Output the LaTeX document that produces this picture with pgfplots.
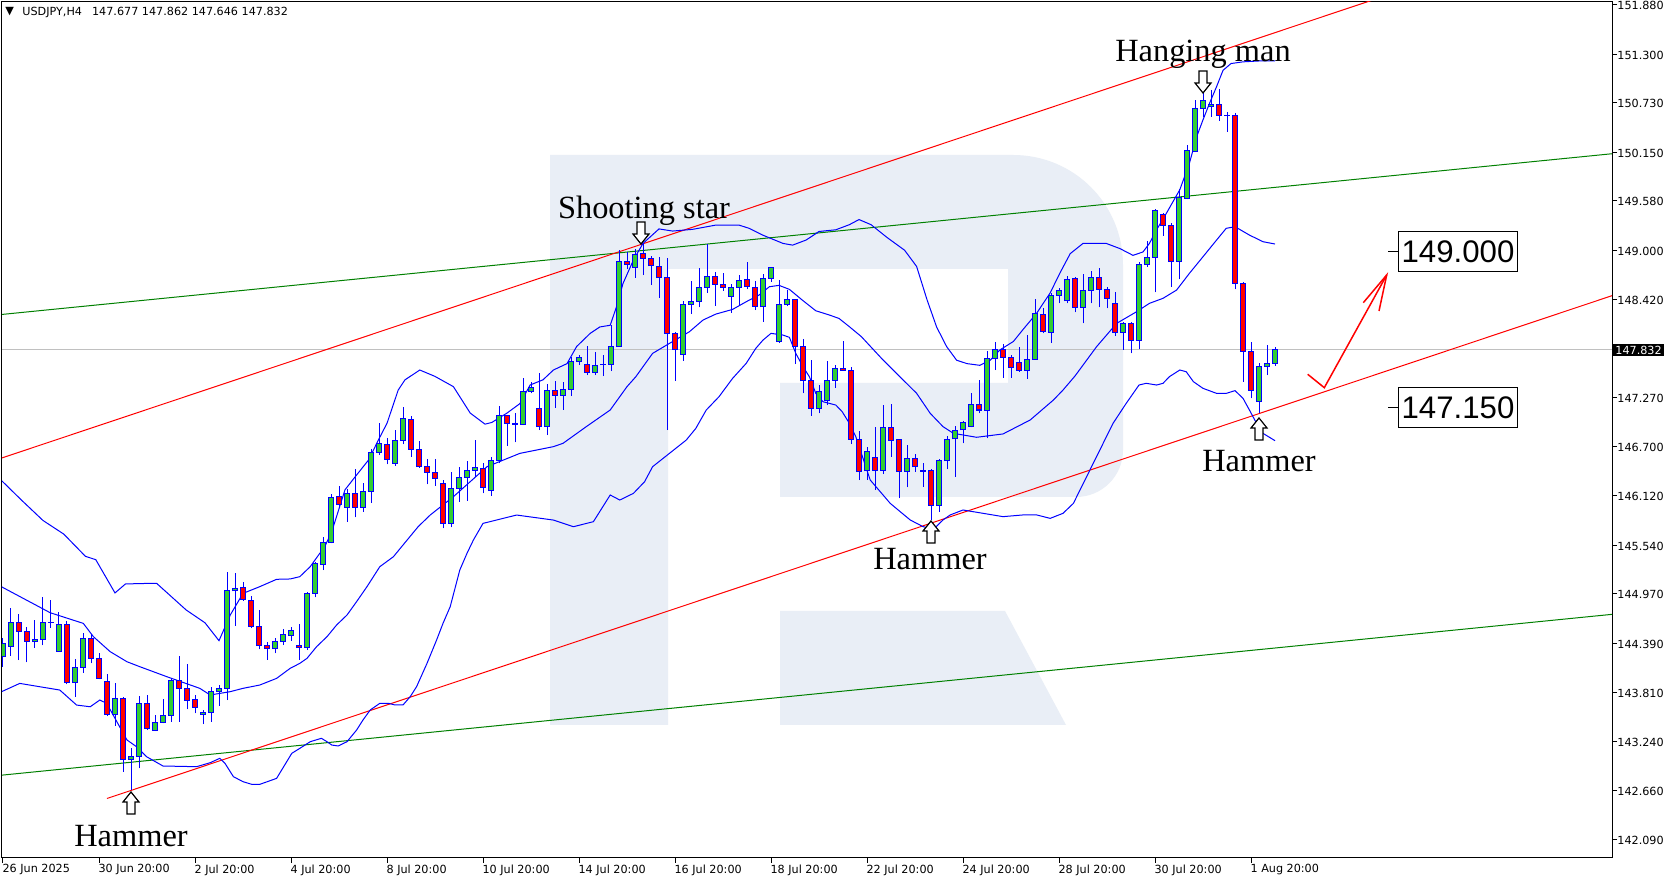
\documentclass[border=0pt]{standalone}
\usepackage{pgfplots}
\pgfplotsset{compat=1.18}
\usepackage{pgfplotstable}
\usepackage{fontspec}
\setmainfont{DejaVu Sans}
\newfontfamily\annfont{Liberation Serif}
\newfontfamily\boxfont{Liberation Sans}
\definecolor{bull}{RGB}{50,205,50}
\definecolor{bear}{RGB}{255,0,0}
\definecolor{wm}{RGB}{233,238,246}
\definecolor{dgreen}{RGB}{0,128,0}
\definecolor{pgray}{RGB}{192,192,192}

\pgfplotstableread{
i o h l c
-12 144.232 144.447 144.115 144.388
-11 144.353 144.799 144.244 144.635
-8 144.412 144.662 144.338 144.435
-7 144.435 144.928 144.365 144.635
-6 144.635 144.897 144.572 144.636
-5 144.299 144.752 144.291 144.611
-3 143.927 144.205 143.763 144.107
-2 144.107 144.506 144.044 144.447
2 143.556 143.919 143.423 143.743
4 143.028 143.157 142.668 143.059
5 143.059 143.771 142.922 143.685
7 143.372 143.548 143.360 143.462
8 143.462 143.732 143.450 143.548
9 143.548 143.978 143.470 143.958
13 143.556 143.607 143.442 143.579
14 143.579 143.880 143.470 143.822
15 143.822 143.900 143.658 143.861
16 143.861 145.230 143.724 145.003
17 145.003 145.210 144.596 145.034
22 144.330 144.448 144.272 144.409
23 144.409 144.553 144.369 144.487
24 144.479 144.577 144.420 144.534
26 144.338 144.995 144.310 144.976
27 144.976 145.347 144.929 145.327
28 145.316 145.640 145.249 145.574
29 145.570 146.137 145.562 146.102
31 145.984 146.199 145.816 146.149
33 145.984 146.266 145.934 146.168
34 146.172 146.665 146.039 146.629
35 146.629 146.970 146.598 146.735
37 146.500 146.891 146.473 146.770
38 146.770 147.157 146.723 147.028
44 145.796 146.402 145.749 146.207
45 146.207 146.461 146.050 146.336
46 146.336 146.527 146.062 146.418
47 146.418 146.774 146.336 146.453
49 146.183 146.578 146.121 146.539
50 146.539 147.173 146.500 147.067
52 146.961 147.087 146.746 146.965
53 146.957 147.497 146.950 147.341
54 147.341 147.458 147.321 147.392
56 146.930 147.431 146.832 147.360
58 147.298 147.458 147.126 147.368
59 147.368 147.751 147.290 147.693
60 147.693 147.771 147.653 147.743
62 147.567 147.810 147.536 147.646
63 147.657 147.771 147.524 147.661
64 147.661 148.123 147.583 147.876
65 147.876 149.002 147.868 148.873
67 148.799 149.010 148.678 148.952
73 147.778 148.408 147.704 148.365
74 148.365 148.638 148.251 148.404
75 148.400 148.795 148.330 148.564
76 148.564 149.072 148.502 148.697
79 148.459 148.603 148.267 148.564
80 148.564 148.709 148.357 148.646
83 148.337 148.721 148.161 148.670
84 148.670 148.807 148.631 148.799
85 147.927 148.650 147.915 148.365
86 148.365 148.533 148.345 148.423
90 147.145 147.419 147.086 147.344
91 147.243 147.700 147.184 147.473
92 147.473 147.653 147.387 147.614
96 146.411 146.696 146.305 146.641
98 146.422 147.185 146.375 146.923
101 146.403 146.716 146.219 146.559
103 146.410 146.501 146.227 146.420
105 146.004 146.547 145.934 146.528
106 146.528 146.821 146.430 146.782
107 146.786 146.938 146.344 146.884
108 146.892 146.997 146.735 146.981
109 146.938 147.322 146.923 147.193
111 147.122 147.818 146.794 147.732
112 147.732 147.928 147.595 147.838
116 147.595 148.006 147.494 147.720
117 147.720 148.424 147.713 148.260
119 148.037 148.495 147.916 148.471
120 148.471 148.561 148.377 148.522
121 148.405 148.698 148.377 148.659
123 148.330 148.721 148.142 148.533
124 148.533 148.756 148.377 148.682
128 148.037 148.158 147.830 148.142
130 147.947 148.858 147.837 148.834
131 148.834 149.112 148.807 148.917
132 148.917 149.480 148.506 149.468
135 148.866 149.714 148.658 149.616
136 149.609 150.234 149.597 150.168
137 150.164 150.762 150.156 150.664
138 150.664 150.840 150.567 150.754
139 150.684 150.879 150.567 150.715
141 150.586 150.625 150.391 150.586
145 147.223 147.673 147.087 147.642
146 147.642 147.888 147.536 147.673
147 147.677 147.862 147.646 147.832
}\candlesUp

\pgfplotstableread{
i o h l c
-10 144.635 144.733 144.193 144.529
-9 144.529 144.576 144.166 144.416
-4 144.611 144.647 143.908 143.927
-1 144.447 144.498 144.154 144.213
0 144.213 144.271 143.966 143.978
1 143.943 144.029 143.536 143.556
3 143.743 143.763 142.883 143.028
6 143.685 143.782 143.372 143.391
10 143.958 144.240 143.470 143.861
11 143.861 144.142 143.614 143.724
12 143.732 143.782 143.567 143.638
18 145.046 145.105 144.890 144.909
19 144.897 144.948 144.565 144.585
20 144.590 144.780 144.319 144.362
21 144.369 144.409 144.194 144.330
25 144.369 144.612 144.194 144.338
30 146.110 146.235 145.992 146.020
32 146.149 146.430 145.867 145.984
36 146.723 146.794 146.489 146.547
39 147.017 147.056 146.579 146.665
40 146.665 146.762 146.450 146.461
41 146.465 146.551 146.254 146.395
42 146.394 146.547 146.238 146.324
43 146.265 146.305 145.738 145.796
48 146.441 146.500 146.148 146.218
51 147.067 147.070 146.707 146.969
55 147.145 147.556 146.891 146.930
57 147.352 147.466 147.153 147.298
61 147.665 147.876 147.536 147.567
66 148.870 148.983 148.780 148.838
68 148.963 149.081 148.709 148.905
69 148.904 148.932 148.592 148.818
70 148.814 148.924 148.443 148.681
71 148.681 148.904 146.891 148.025
72 148.025 148.044 147.469 147.837
77 148.697 148.740 148.349 148.599
78 148.599 148.728 148.525 148.564
81 148.658 148.857 148.541 148.580
82 148.564 148.638 148.298 148.345
87 148.423 148.430 147.665 147.868
88 147.868 147.958 147.321 147.469
89 147.469 147.712 147.059 147.145
93 147.614 147.935 147.590 147.591
94 147.587 147.634 146.726 146.781
95 146.781 146.879 146.304 146.402
97 146.571 146.931 146.188 146.422
99 146.923 147.197 146.579 146.774
100 146.782 146.790 146.090 146.403
102 146.559 146.610 146.403 146.458
104 146.422 146.430 145.836 146.004
110 147.193 147.478 147.087 147.126
113 147.838 147.900 147.505 147.744
114 147.744 147.771 147.505 147.627
115 147.681 147.861 147.576 147.595
118 148.248 148.319 148.025 148.045
122 148.670 148.682 148.271 148.330
125 148.682 148.787 148.330 148.541
126 148.541 148.572 148.318 148.436
127 148.377 148.514 147.998 148.037
129 148.142 148.162 147.791 147.947
133 149.421 149.440 149.171 149.288
134 149.288 149.315 148.572 148.866
140 150.711 150.891 150.520 150.586
142 150.586 150.606 148.541 148.612
143 148.612 148.631 147.458 147.818
144 147.818 147.927 147.263 147.360
}\candlesDown

\pgfplotstableread{
i v
-12.2 146.30
-9.7 146.07
-7.0 145.83
-4.4 145.67
-1.7 145.41
-0.4 145.37
2.0 144.98
3.3 145.085
5.0 145.09
7.2 145.093
10.9 144.78
13.25 144.63
15.0 144.42
16.4 144.72
18.0 144.975
20.1 145.054
22.2 145.140
23.9 145.144
25.1 145.171
26.4 145.288
27.6 145.445
28.0 145.48
29.1 145.70
30.75 146.19
32.0 146.34
33.7 146.54
34.9 146.77
36.0 146.97
37.4 147.36
38.25 147.48
40.1 147.595
42 147.52
44.3 147.40
46.4 147.09
48.25 146.96
49.1 146.98
51.0 147.09
52.6 147.20
53.9 147.42
55.5 147.48
56.8 147.595
58.5 147.67
59.7 147.87
61.4 148.025
62.6 148.10
63.9 148.12
64.7 148.34
65.5 148.61
66.8 148.885
68.0 149.08
70.0 149.25
71.7 149.225
74.2 149.245
77.1 149.295
80.0 149.295
81.3 149.256
82.9 149.18
85.5 149.08
86.7 149.06
88.4 149.12
90.0 149.22
92.1 149.24
93.8 149.30
95.0 149.36
96.5 149.30
98.5 149.15
100.7 149.00
102.2 148.81
103.5 148.42
104.7 148.10
105.95 147.87
107.2 147.71
108.5 147.67
110.1 147.65
111.4 147.71
112.6 147.83
114.3 147.93
115.5 148.07
117.2 148.26
118.9 148.50
120.1 148.73
121.4 148.96
123.0 149.08
125.9 149.08
127.6 149.02
129.25 148.94
130.5 148.98
131.3 149.08
132.2 149.24
133.4 149.43
135.1 149.71
136.3 150.02
137.2 150.33
138.0 150.53
138.8 150.72
139.7 150.92
140.5 151.11
141.5 151.19
143.0 151.21
145.0 151.22
147.0 151.22
}\bbUpper

\pgfplotstableread{
i v
-12.2 145.053
-6.1 144.748
-1.96 144.623
-0.7 144.467
1.4 144.291
3.5 144.173
5.1 144.115
8.5 143.997
12.6 143.861
13.9 143.783
16.4 143.822
18.0 143.861
20.1 143.900
22.2 143.978
23.9 144.096
25.1 144.154
26.0 144.213
27.2 144.350
28.5 144.467
29.7 144.604
31.0 144.721
32.2 144.878
33.5 145.054
35.1 145.288
36.8 145.405
38.0 145.542
39.9 145.758
41.4 145.894
44.3 146.109
48.5 146.461
52.6 146.617
56.8 146.696
58.0 146.735
60.9 146.930
63.9 147.126
66.0 147.40
67.1 147.516
68.2 147.66
69.2 147.79
71.3 147.907
73.8 148.044
75.5 148.181
77.1 148.251
79.2 148.306
80.9 148.396
82.5 148.474
83.8 148.572
85.0 148.588
86.3 148.541
87.9 148.416
89.6 148.290
91.3 148.240
92.5 148.200
93.8 148.103
95.3 147.986
98.0 147.713
100.1 147.517
102.2 147.322
103.9 147.087
105.5 146.931
106.8 146.852
109.7 146.806
113.0 146.845
116.4 147.009
119.3 147.243
120.5 147.36
122.0 147.525
124.7 147.869
127.2 148.142
129.7 148.279
131.3 148.377
133.0 148.436
134.7 148.533
136.3 148.729
138.0 148.924
139.7 149.120
140.9 149.257
142.0 149.276
143.8 149.178
145.5 149.100
147.0 149.073
}\bbMiddle

\pgfplotstableread{
i v
-12.2 143.821
-9.9 143.919
-4.9 143.841
-2.8 143.665
-1.1 143.645
0.1 143.724
0.96 143.685
3.5 143.255
4.7 143.176
5.95 143.059
8.0 142.950
12.2 142.942
13.9 142.989
15.1 143.040
15.75 142.981
16.8 142.825
18.0 142.766
19.1 142.735
20.1 142.735
22.2 142.805
24.1 143.099
25.1 143.157
26.4 143.235
27.8 143.275
28.5 143.235
29.1 143.196
29.9 143.185
31.0 143.235
32.2 143.372
33.0 143.490
33.9 143.607
35.1 143.685
36.2 143.685
37.0 143.666
38.0 143.666
38.9 143.763
39.7 143.881
41.0 144.154
42.2 144.428
43.0 144.623
43.9 144.819
45.1 145.249
46.0 145.445
46.8 145.601
48.0 145.796
52.2 145.894
56.8 145.835
59.3 145.757
61.8 145.816
63.9 146.129
65.1 146.070
66.8 146.148
68.2 146.285
69.2 146.461
71.3 146.617
73.4 146.773
74.6 146.910
75.9 147.125
77.5 147.282
79.2 147.497
80.9 147.673
82.1 147.849
83.0 147.946
84.0 148.025
85.5 148.005
86.3 147.978
87.1 147.790
88.0 147.634
88.8 147.516
89.6 147.321
90.5 147.223
92.1 147.184
92.9 147.106
93.8 146.969
94.6 146.813
96.4 146.305
98.9 146.031
101.4 145.836
103.0 145.758
104.3 145.726
105.5 145.836
106.4 145.895
108.0 145.953
110.5 145.914
113.0 145.875
115.5 145.895
117.2 145.895
118.9 145.855
120.5 145.914
121.8 146.031
125.1 146.656
126.75 146.969
128.4 147.204
130.0 147.419
130.9 147.439
132.2 147.419
133.0 147.439
133.8 147.517
135.1 147.595
135.9 147.575
136.8 147.458
138.0 147.380
139.7 147.321
140.9 147.321
142.0 147.353
143.0 147.263
143.8 147.126
144.7 146.969
145.5 146.852
147.0 146.766
}\bbLower

\newcommand{\harrowup}[2]{\filldraw[fill=white, draw=black, line width=0.6pt, line join=miter] (#1,#2) -- ++(8,10) -- ++(-4,0) -- ++(0,12) -- ++(-8,0) -- ++(0,-12) -- ++(-4,0) -- cycle;}
\newcommand{\harrowdown}[2]{\filldraw[fill=white, draw=black, line width=0.6pt, line join=miter] (#1,#2) -- ++(8,-10) -- ++(-4,0) -- ++(0,-12) -- ++(-8,0) -- ++(0,12) -- ++(-4,0) -- cycle;}

\begin{document}
\begin{tikzpicture}
\begin{scope}[x=0.5pt,y=-0.5pt,yshift=441pt]
\path[use as bounding box] (0,0) rectangle (1676,882);
\fill[white] (0,0) rectangle (1676,882);
% watermark R
\fill[wm] (550,155) -- (1013,155) .. controls (1074,155) and (1123,204) .. (1123,265) -- (1123,450) .. controls (1123,476) and (1102,497) .. (1076,497) -- (780,497) -- (780,383) -- (1008,383) -- (1008,269) -- (668,269) -- (668,725) -- (550,725) -- cycle;
\fill[wm] (780,611) -- (1005,611) -- (1066,725) -- (780,725) -- cycle;
\end{scope}

\begin{axis}[
  at={(1pt,12pt)}, anchor=south west,
  scale only axis, width=805pt, height=428pt,
  xmin=-12.125, xmax=189.125, ymin=141.871, ymax=151.912,
  axis line style={black, line width=0.5pt},
  clip mode=individual,
  xtick={-12,0,12,24,36,48,60,72,84,96,108,120,132,144},
  xticklabels={26 Jun 2025,30 Jun 20:00,2 Jul 20:00,4 Jul 20:00,8 Jul 20:00,10 Jul 20:00,14 Jul 20:00,16 Jul 20:00,18 Jul 20:00,22 Jul 20:00,24 Jul 20:00,28 Jul 20:00,30 Jul 20:00,1 Aug 20:00},
  ytick={142.09,142.66,143.24,143.81,144.39,144.97,145.54,146.12,146.70,147.27,148.42,149.00,149.58,150.15,150.73,151.30,151.88},
  yticklabels={142.090,142.660,143.240,143.810,144.390,144.970,145.540,146.120,146.700,147.270,148.420,149.000,149.580,150.150,150.730,151.300,151.880},
  xtick pos=left, ytick pos=right, yticklabel pos=right,
  tick align=outside, major tick length=2.5pt,
  tick style={black, line width=0.5pt},
  xticklabel style={anchor=north west, inner sep=0pt, font=\fontsize{5.6}{6.7}\selectfont, xshift=-0.4pt, yshift=-0.6pt},
  yticklabel style={anchor=west, inner sep=0pt, font=\fontsize{5.6}{6.7}\selectfont, yshift=-0.5pt},
]
% reference lines
\addplot[pgray, line width=0.5pt] coordinates {(-12.125,147.832) (189.125,147.832)};
\addplot[dgreen, line width=0.5pt] coordinates {(-12.125,148.247) (189.125,150.132)};
\addplot[dgreen, line width=0.5pt] coordinates {(-12.125,142.843) (189.125,144.729)};
\addplot[red, line width=0.5pt] coordinates {(-12.125,146.564) (189.125,152.873)};
\addplot[red, line width=0.5pt] coordinates {(0.99,142.569) (189.125,148.467)};
% Bollinger bands
\addplot[blue, line width=0.5pt] table[x=i,y=v] \bbUpper;
\addplot[blue, line width=0.5pt] table[x=i,y=v] \bbMiddle;
\addplot[blue, line width=0.5pt] table[x=i,y=v] \bbLower;
% wicks
\addplot[draw=none, error bars/.cd, y dir=plus, y explicit, error mark=none, error bar style={draw=blue, line width=0.5pt, solid}] table[x=i, y=l, y error plus expr={\thisrow{h}-\thisrow{l}}] \candlesUp;
\addplot[draw=none, error bars/.cd, y dir=plus, y explicit, error mark=none, error bar style={draw=blue, line width=0.5pt, solid}] table[x=i, y=l, y error plus expr={\thisrow{h}-\thisrow{l}}] \candlesDown;
% body outlines
\addplot[draw=none, error bars/.cd, y dir=plus, y explicit, error mark=none, error bar style={draw=blue, line width=2.6pt, solid}] table[x=i, y expr={min(\thisrow{o},\thisrow{c})-0.0059}, y error plus expr={abs(\thisrow{c}-\thisrow{o})+0.0117}] \candlesUp;
\addplot[draw=none, error bars/.cd, y dir=plus, y explicit, error mark=none, error bar style={draw=blue, line width=2.6pt, solid}] table[x=i, y expr={min(\thisrow{o},\thisrow{c})-0.0059}, y error plus expr={abs(\thisrow{c}-\thisrow{o})+0.0117}] \candlesDown;
% body fills
\addplot[draw=none, error bars/.cd, y dir=plus, y explicit, error mark=none, error bar style={draw=bull, line width=1.6pt, solid}] table[x=i, y expr={min(\thisrow{o},\thisrow{c})+0.0059}, y error plus expr={max(abs(\thisrow{c}-\thisrow{o})-0.0117,0)}] \candlesUp;
\addplot[draw=none, error bars/.cd, y dir=plus, y explicit, error mark=none, error bar style={draw=bear, line width=1.6pt, solid}] table[x=i, y expr={min(\thisrow{o},\thisrow{c})+0.0059}, y error plus expr={max(abs(\thisrow{c}-\thisrow{o})-0.0117,0)}] \candlesDown;
\end{axis}

\begin{scope}[x=0.5pt,y=-0.5pt,yshift=441pt]
% header
\node[anchor=west, inner sep=0pt, font=\fontsize{5.6}{6.7}\selectfont] at (5,12) {▼};
\node[anchor=west, inner sep=0pt, font=\fontsize{5.6}{6.7}\selectfont] at (22,12) {USDJPY,H4\hspace{5pt}147.677 147.862 147.646 147.832};
% current price label
\node[fill=black, text=white, anchor=west, inner xsep=1pt, inner ysep=0pt, minimum height=6pt, font=\fontsize{5.6}{6.7}\selectfont] at (1613,350) {147.832};
% annotations
\node[anchor=base, inner sep=0pt, font=\annfont\fontsize{16.2}{19}\selectfont] at (1203,62) {Hanging man};
\node[anchor=base, inner sep=0pt, font=\annfont\fontsize{16.2}{19}\selectfont] at (644,218.5) {Shooting star};
\node[anchor=base, inner sep=0pt, font=\annfont\fontsize{16.2}{19}\selectfont] at (131,847) {Hammer};
\node[anchor=base, inner sep=0pt, font=\annfont\fontsize{16.2}{19}\selectfont] at (930,570) {Hammer};
\node[anchor=base, inner sep=0pt, font=\annfont\fontsize{16.2}{19}\selectfont] at (1259,472) {Hammer};
\harrowup{131}{792}
\harrowdown{641}{244}
\harrowdown{1203}{93}
\harrowup{931}{521}
\harrowup{1259}{418}
% target arrow
\draw[red, line width=0.75pt] (1307.7,374.3) -- (1324.3,387.7) -- (1386.7,275);
\draw[red, line width=0.75pt] (1363.3,302.7) -- (1386.7,275) -- (1379,311);
% level boxes
\draw[black, line width=0.5pt] (1388,251.5) -- (1398,251.5);
\node[draw=black, line width=0.5pt, fill=white, minimum width=59.5pt, minimum height=20pt, inner sep=0pt, anchor=west, font=\boxfont\fontsize{15.6}{18}\selectfont] at (1398,251.5) {149.000};
\draw[black, line width=0.5pt] (1388,408) -- (1398,408);
\node[draw=black, line width=0.5pt, fill=white, minimum width=59.5pt, minimum height=20pt, inner sep=0pt, anchor=west, font=\boxfont\fontsize{15.6}{18}\selectfont] at (1398,408) {147.150};
\end{scope}
\end{tikzpicture}
\end{document}
